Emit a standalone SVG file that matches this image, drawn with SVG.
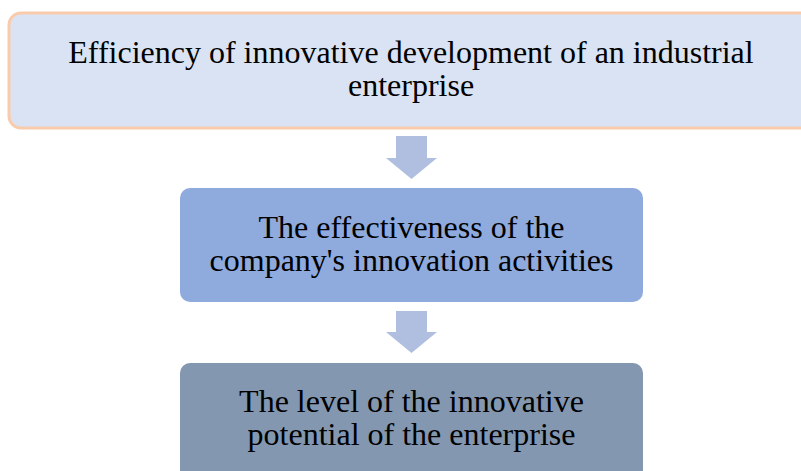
<svg xmlns="http://www.w3.org/2000/svg" width="801" height="471" viewBox="0 0 801 471">
  <style>
    .label { font-family: "Liberation Serif", "Times New Roman", serif; font-size: 32px; fill: #000; text-anchor: middle; }
    .arrow { fill: #B0BFE0; }
  </style>
  <rect width="801" height="471" fill="#FFFFFF"/>
  <g id="node-efficiency">
    <rect x="9" y="13" width="810" height="115" rx="12" ry="12" fill="#DAE3F3" stroke="#F8CBAD" stroke-width="3"/>
    <text class="label" x="411" y="63">Efficiency of innovative development of an industrial</text>
    <text class="label" x="411" y="96">enterprise</text>
  </g>
  <g id="node-effectiveness">
    <rect x="180" y="188" width="463" height="114" rx="10" ry="10" fill="#8FAADC"/>
    <text class="label" x="411.5" y="238">The effectiveness of the</text>
    <text class="label" x="411.5" y="271">company's innovation activities</text>
  </g>
  <g id="node-potential">
    <rect x="180" y="363" width="463" height="120" rx="10" ry="10" fill="#8497B0"/>
    <text class="label" x="411.5" y="412">The level of the innovative</text>
    <text class="label" x="411.5" y="445">potential of the enterprise</text>
  </g>
  <g id="connectors">
    <polygon class="arrow" points="396,136 427,136 427,158 437,158 411.5,179 386,158 396,158"/>
    <polygon class="arrow" points="396,311 427,311 427,332 437,332 411.5,353 386,332 396,332"/>
  </g>
</svg>
